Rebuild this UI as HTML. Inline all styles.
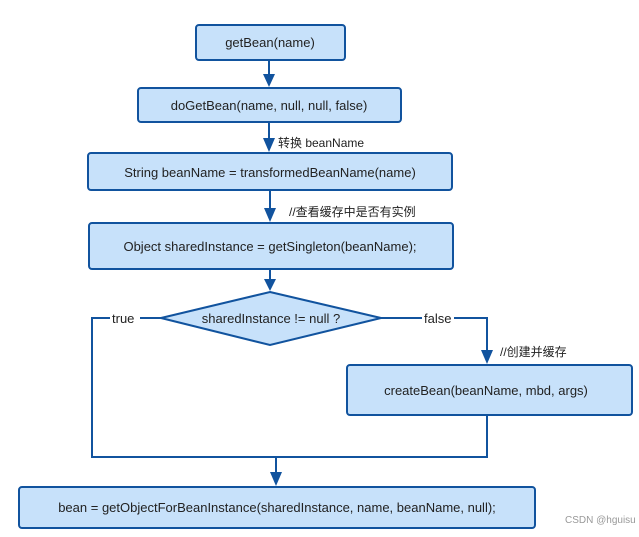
<!DOCTYPE html>
<html><head><meta charset="utf-8"><style>
html,body{margin:0;padding:0;background:#fff;}
svg{display:block;}
text{font-family:"Liberation Sans","Noto Sans CJK SC",sans-serif;font-size:13px;fill:#222;}
.b{fill:#c7e1fa;stroke:#11539e;stroke-width:2;}
.l{stroke:#11539e;stroke-width:2;fill:none;}
.a{fill:#11539e;}
</style></head><body>
<svg width="639" height="537" viewBox="0 0 639 537" xmlns="http://www.w3.org/2000/svg">
<rect class="b" x="196" y="25" width="149" height="35" rx="3"/>
<text x="270" y="47" text-anchor="middle">getBean(name)</text>
<line class="l" x1="269" y1="60" x2="269" y2="76"/><polygon class="a" points="263,74 275,74 269,87"/>
<rect class="b" x="138" y="88" width="263" height="34" rx="3"/>
<text x="269" y="110" text-anchor="middle">doGetBean(name, null, null, false)</text>
<line class="l" x1="269" y1="122" x2="269" y2="140"/><polygon class="a" points="263,138 275,138 269,152"/>
<text x="278" y="147" style="font-size:12px">转换 beanName</text>
<rect class="b" x="88" y="153" width="364" height="37" rx="3"/>
<text x="270" y="177" text-anchor="middle">String beanName = transformedBeanName(name)</text>
<line class="l" x1="270" y1="190" x2="270" y2="210"/><polygon class="a" points="264,208 276,208 270,222"/>
<text x="289" y="216" style="font-size:12px">//查看缓存中是否有实例</text>
<rect class="b" x="89" y="223" width="364" height="46" rx="3"/>
<text x="270" y="251" text-anchor="middle">Object sharedInstance = getSingleton(beanName);</text>
<line class="l" x1="270" y1="269" x2="270" y2="280"/><polygon class="a" points="264,279 276,279 270,291"/>
<polygon class="b" points="270,292 381,318 270,345 161,318"/>
<text x="271" y="323" text-anchor="middle">sharedInstance != null ?</text>
<polyline class="l" points="161,318 92,318 92,457 487,457 487,415"/>
<polyline class="l" points="381,318 487,318 487,352"/>
<polygon class="a" points="481,350 493,350 487,364"/>
<rect x="110" y="310" width="30" height="16" fill="#fff"/>
<text x="112" y="323">true</text>
<rect x="422" y="310" width="32" height="16" fill="#fff"/>
<text x="424" y="323">false</text>
<text x="500" y="356" style="font-size:12px">//创建并缓存</text>
<rect class="b" x="347" y="365" width="285" height="50" rx="3"/>
<text x="486" y="395" text-anchor="middle">createBean(beanName, mbd, args)</text>
<line class="l" x1="276" y1="457" x2="276" y2="474"/><polygon class="a" points="270,472 282,472 276,486"/>
<rect class="b" x="19" y="487" width="516" height="41" rx="3"/>
<text x="277" y="512" text-anchor="middle">bean = getObjectForBeanInstance(sharedInstance, name, beanName, null);</text>
<text x="565" y="523" style="font-size:10px;fill:#999">CSDN @hguisu</text>
</svg>
</body></html>
